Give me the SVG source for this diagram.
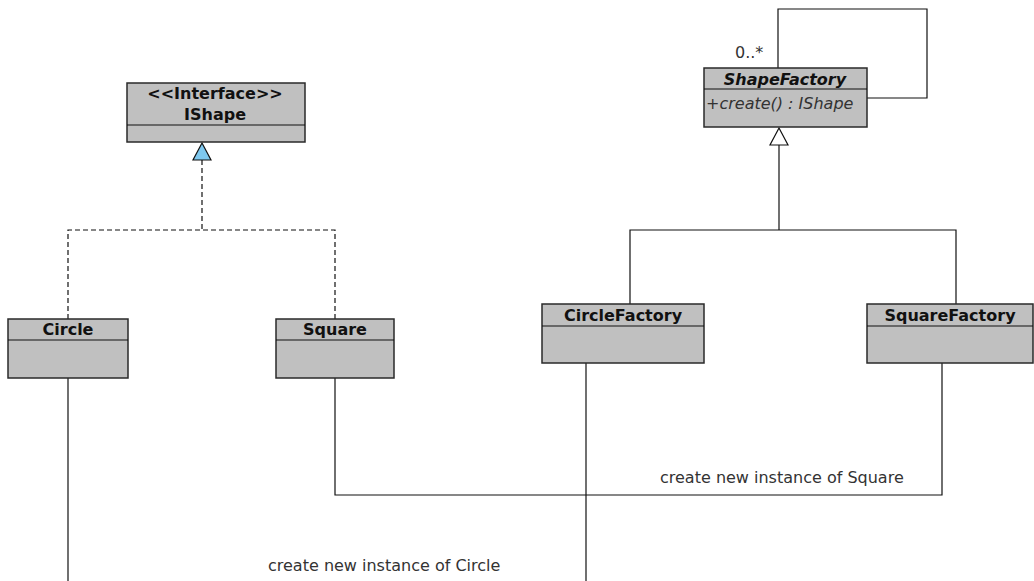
<svg xmlns="http://www.w3.org/2000/svg" width="1034" height="581" viewBox="0 0 1034 581">
<style>
.box{fill:#c0c0c0;stroke:#2a2a2a;stroke-width:1.5}
.hdr{font-family:"DejaVu Sans",sans-serif;font-weight:bold;font-size:16px;fill:#111;text-anchor:middle}
.lbl{font-family:"DejaVu Sans",sans-serif;font-size:16px;fill:#333}
.ln{fill:none;stroke:#111;stroke-width:1.2}
.dash{fill:none;stroke:#111;stroke-width:1.2;stroke-dasharray:5,3}
</style>
<rect width="1034" height="581" fill="#fff"/>
<g id="connectors">
  <polyline class="dash" points="202,160 202,230"/>
  <polyline class="dash" points="68,319 68,230 335,230 335,319"/>
  <polygon points="202,143 193,160 211,160" fill="#7ec8ef" stroke="#111" stroke-width="1.2"/>
  <polyline class="ln" points="779,145 779,230"/>
  <polyline class="ln" points="630,304 630,230 956,230 956,304"/>
  <polygon points="779,128 770,145 788,145" fill="#fff" stroke="#111" stroke-width="1.2"/>
  <polyline class="ln" points="778,68 778,9 927,9 927,98 867,98"/>
  <text class="lbl" x="735" y="58">0..*</text>
  <polyline class="ln" points="335,378 335,495 942,495 942,363"/>
  <text class="lbl" x="660" y="483">create new instance of Square</text>
  <line class="ln" x1="68" y1="378" x2="68" y2="581"/>
  <line class="ln" x1="586" y1="363" x2="586" y2="581"/>
  <text class="lbl" x="268" y="571">create new instance of Circle</text>
</g>
<g id="IShape">
  <rect class="box" x="127" y="83" width="178" height="59"/>
  <line class="ln" x1="127" y1="125" x2="305" y2="125"/>
  <text class="hdr" x="215" y="99">&lt;&lt;Interface&gt;&gt;</text>
  <text class="hdr" x="215" y="120">IShape</text>
</g>
<g id="ShapeFactory">
  <rect class="box" x="704" y="68" width="163" height="59"/>
  <line class="ln" x1="704" y1="89" x2="867" y2="89"/>
  <text class="hdr" x="785" y="85" font-style="italic">ShapeFactory</text>
  <text class="lbl" x="706" y="109" font-style="italic">+create() : IShape</text>
</g>
<g id="Circle">
  <rect class="box" x="8" y="319" width="120" height="59"/>
  <line class="ln" x1="8" y1="340" x2="128" y2="340"/>
  <text class="hdr" x="68" y="335">Circle</text>
</g>
<g id="Square">
  <rect class="box" x="276" y="319" width="118" height="59"/>
  <line class="ln" x1="276" y1="340" x2="394" y2="340"/>
  <text class="hdr" x="335" y="335">Square</text>
</g>
<g id="CircleFactory">
  <rect class="box" x="542" y="304" width="162" height="59"/>
  <line class="ln" x1="542" y1="326" x2="704" y2="326"/>
  <text class="hdr" x="623" y="321">CircleFactory</text>
</g>
<g id="SquareFactory">
  <rect class="box" x="867" y="304" width="166" height="59"/>
  <line class="ln" x1="867" y1="326" x2="1033" y2="326"/>
  <text class="hdr" x="950" y="321">SquareFactory</text>
</g>
</svg>
